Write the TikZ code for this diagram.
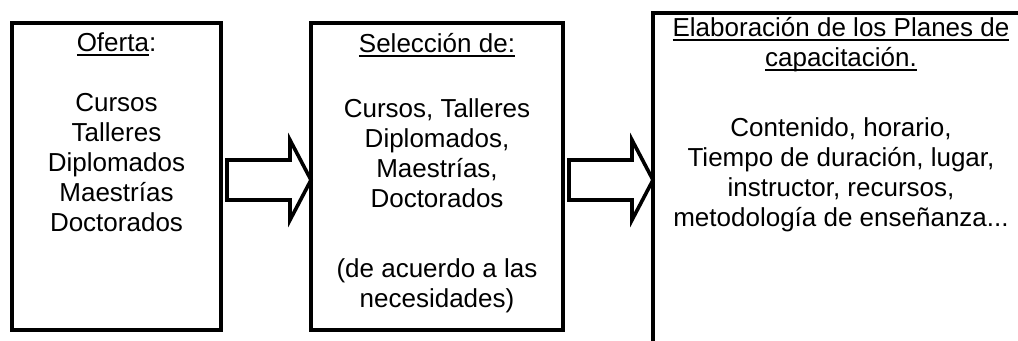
\documentclass[tikz,border=0pt]{standalone}
\usepackage{fontspec}
\setmainfont{Liberation Sans}
\usepackage{tikz}
\usetikzlibrary{calc}
\tikzset{
	caja/.style   = {draw, line width = 2.7pt, rectangle, inner sep = 0pt,
		outer sep = 0pt},
	texto/.style  = {align = center, anchor = base, inner sep = 0pt,
		font = \fontsize{19.5}{22.5}\selectfont},
	flecha/.style = {draw, line width = 2.7pt, fill = white}
}
\newsavebox{\subbox}
\newcommand{\subr}[1]{\sbox{\subbox}{#1}\rlap{\rule[-3pt]{\wd\subbox}{1.2pt}}\usebox{\subbox}}
\newcommand{\flecha}[2]{%
	\path ($(#1.east)+(6,3.5)$) coordinate (#1a) (#2.west |- #1a) coordinate (#1b);
	\draw[flecha] ($(#1a)+(0,-20)$) -- ($(#1b)+(-21,-20)$) -- ($(#1b)+(-21,-40)$)
		-- (#1b) -- ($(#1b)+(-21,40)$) -- ($(#1b)+(-21,20)$) -- ($(#1a)+(0,20)$) -- cycle;}

\begin{document}
\begin{tikzpicture}[x = 0.75pt, y = -0.75pt]
	\useasboundingbox (0,0) rectangle (1018,341);
	\clip (0,0) rectangle (1018,341);

	\draw
	node at (116.5,176.5) [caja, minimum width = 156.75pt, minimum height = 230.25pt] (of) {}
	node at (437,176.5) [caja, minimum width = 189pt, minimum height = 230.25pt] (sel) {}
	node at (841,206.5) [caja, minimum width = 282pt, minimum height = 290.25pt] (plan) {};

	% base = baseline of the last line
	\draw
	node at ($(of.north)+(0,209)$) [texto] (t1) {\subr{Oferta}:\\[22.5pt]
		Cursos\\ Talleres\\ Diplomados\\ Maestrías\\ Doctorados}
	node at ($(sel.north)+(0,285)$) [texto] (t2) {\subr{Selección de:}\\[26.25pt]
		Cursos, Talleres\\ Diplomados,\\ Maestrías,\\ Doctorados\\[30pt]
		(de acuerdo a las\\ necesidades)}
	node at ($(plan.north)+(0,214)$) [texto] (t3) {\subr{Elaboración de los Planes de}\\
		\subr{capacitación.}\\[30pt]
		Contenido, horario,\\ Tiempo de duración, lugar,\\ instructor, recursos,\\
		metodología de enseñanza...};

	\flecha{of}{sel}
	\flecha{sel}{plan}

\end{tikzpicture}
\end{document}
